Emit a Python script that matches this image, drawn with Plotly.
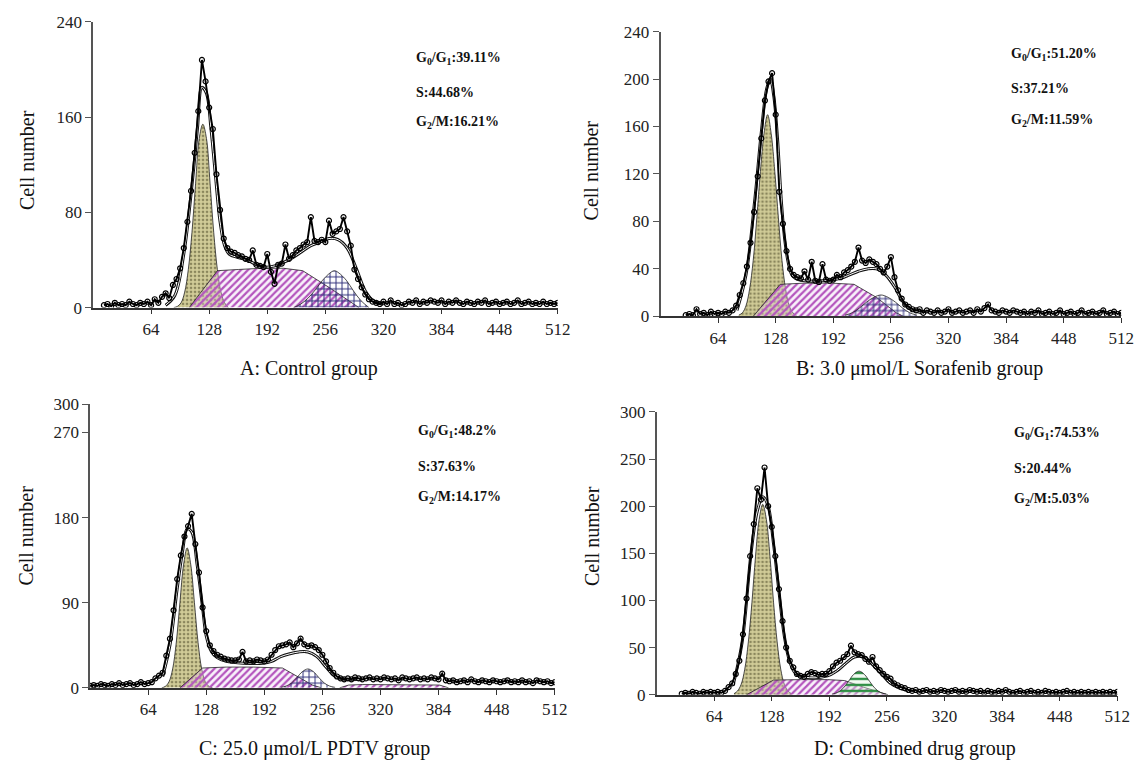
import plotly.graph_objects as go

W, H = 1147, 763

# ---------------- DATA ----------------
# channel grids (histogram bin index)
A_ch = list(range(12, 513, 4))
A_cnt = [2, 3, 1, 4, 2, 3, 2, 5, 3, 2,
         4, 3, 5, 2, 7, 4, 9, 12, 8, 19,
         24, 33, 50, 72, 98, 130, 165, 208, 190, 168,
         150, 112, 82, 58, 50, 47, 46, 44, 43, 41,
         40, 48, 36, 35, 34, 45, 30, 20, 36, 37,
         53, 41, 44, 48, 50, 53, 55, 76, 56, 55,
         57, 55, 73, 62, 64, 66, 76, 64, 52, 32,
         24, 17, 11, 7, 5, 4, 3, 5, 3, 6,
         3, 4, 2, 3, 5, 4, 6, 3, 5, 4,
         6, 5, 4, 6, 3, 5, 4, 6, 4, 3,
         5, 4, 3, 5, 4, 6, 3, 4, 5, 3,
         4, 5, 3, 4, 6, 3, 4, 5, 3, 4,
         3, 5, 3, 4, 3, 4]
A_g1_x = [89, 93, 97, 101, 105, 109, 113, 117, 121, 125, 129, 133, 137, 141, 145, 149]
A_g1_y = [0, 1, 4, 13, 32, 63, 104, 142, 154, 142, 104, 63, 32, 13, 4, 0]
A_s_x = [106, 137, 160, 185, 210, 231, 262, 293]
A_s_y = [0, 31, 32, 33, 33, 31, 16, 0]
A_g2_x = [221, 229, 237, 245, 253, 261, 266, 271, 279, 287, 295, 304]
A_g2_y = [0, 3, 8, 15, 23, 29, 31, 29, 23, 14, 6, 0]
A_env_x = [80, 90, 100, 110, 115, 120, 125, 130, 135, 140, 145, 150, 160, 170, 180, 190, 200,
           210, 220, 230, 240, 250, 260, 270, 280, 290, 300, 310, 320]
A_env_y = [2, 10, 45, 110, 150, 185, 180, 150, 110, 72, 52, 45, 42, 40, 36, 34, 35,
           38, 42, 47, 52, 55, 58, 57, 50, 33, 14, 5, 3]

B_ch = list(range(28, 513, 4))
B_cnt = [1, 2, 1, 6, 2, 3, 1, 4, 2, 3,
         2, 4, 3, 5, 9, 18, 28, 42, 62, 88,
         118, 150, 182, 198, 205, 170, 105, 78, 55, 40,
         35, 33, 32, 38, 31, 46, 30, 29, 44, 31,
         30, 31, 35, 33, 37, 39, 42, 46, 58, 47,
         45, 48, 46, 44, 40, 37, 42, 50, 33, 22,
         15, 10, 8, 6, 5, 6, 3, 5, 4, 3,
         5, 3, 4, 6, 3, 4, 5, 3, 4, 5,
         3, 6, 4, 7, 10, 5, 4, 3, 5, 4,
         3, 5, 4, 3, 4, 2, 4, 3, 5, 2,
         3, 4, 2, 3, 5, 2, 3, 4, 2, 3,
         5, 2, 3, 4, 2, 3, 5, 2, 3, 4,
         2, 3]
B_g1_x = [87, 91, 95, 99, 103, 107, 111, 115, 119, 123, 127, 131, 135, 139, 143, 147, 151]
B_g1_y = [1, 3, 9, 23, 47, 83, 122, 154, 170, 154, 122, 83, 47, 23, 9, 3, 1]
B_s_x = [103, 133, 160, 190, 215, 240, 262, 270]
B_s_y = [0, 27, 28, 28, 27, 16, 3, 0]
B_g2_x = [205, 213, 221, 229, 237, 245, 253, 261, 269, 277, 285]
B_g2_y = [1, 3, 7, 12, 16, 18, 16, 12, 7, 3, 1]
B_env_x = [85, 95, 105, 112, 118, 122, 126, 130, 134, 138, 142, 146, 150, 160, 180, 200,
           210, 220, 230, 240, 250, 260, 268, 276, 290]
B_env_y = [5, 35, 100, 155, 192, 200, 185, 150, 100, 65, 45, 35, 32, 30, 30, 32,
           35, 38, 40, 40, 35, 25, 14, 7, 3]

C_ch = list(range(0, 513, 4))
C_cnt = [2, 3, 2, 4, 3, 2, 4, 3, 5, 3,
         4, 5, 3, 4, 6, 4, 5, 6, 10, 13,
         16, 34, 52, 82, 115, 140, 160, 171, 184, 152,
         122, 85, 60, 45, 39, 35, 33, 31, 30, 29,
         29, 30, 38, 28, 29, 28, 30, 29, 28, 30,
         35, 40, 44, 45, 46, 48, 43, 47, 52, 46,
         44, 45, 43, 40, 35, 28, 21, 16, 12, 10,
         9, 10, 9, 11, 10, 9, 10, 11, 9, 10,
         9, 11, 10, 9, 10, 8, 11, 10, 9, 10,
         11, 9, 10, 9, 11, 10, 9, 15, 8, 7,
         8, 6, 7, 8, 6, 9, 7, 6, 8, 7,
         6, 8, 7, 6, 7, 8, 6, 7, 6, 8,
         6, 7, 5, 8, 7, 6, 7, 5, 6]
C_g1_x = [79, 83, 87, 91, 95, 99, 103, 107, 111, 115, 119, 123, 127, 131, 135]
C_g1_y = [0, 1.6, 6.5, 20, 48, 90, 130, 148, 130, 90, 48, 20, 6.5, 1.6, 0]
C_s_x = [99, 124, 150, 180, 212, 228, 245, 255]
C_s_y = [0, 21, 22, 22, 21, 12, 3, 0]
C_tail_x = [275, 285, 300, 350, 385, 395]
C_tail_y = [0, 3, 3.5, 3.5, 3, 0]
C_g2_x = [210, 216, 222, 228, 234, 240, 246, 252, 258, 264, 270]
C_g2_y = [0.5, 1.9, 5.2, 11, 17.2, 20, 17.2, 11, 5.2, 1.9, 0.5]
C_env_x = [80, 88, 96, 102, 107, 112, 118, 124, 128, 134, 140, 150, 170, 190, 200, 210,
           220, 230, 240, 250, 260, 270, 280, 300]
C_env_y = [12, 45, 105, 145, 168, 165, 130, 85, 55, 38, 32, 28, 26, 26, 28, 33,
           36, 38, 38, 33, 22, 12, 9, 9]

D_ch = list(range(28, 513, 4))
D_cnt = [1, 2, 1, 3, 2, 1, 3, 2, 3, 2,
         3, 2, 4, 8, 12, 22, 36, 64, 102, 147,
         181, 219, 207, 241, 200, 178, 147, 112, 78, 50,
         36, 29, 22, 20, 19, 22, 24, 23, 21, 22,
         22, 25, 30, 34, 36, 40, 43, 52, 45, 43,
         42, 38, 35, 40, 30, 26, 22, 19, 17, 12,
         10, 8, 7, 5, 4, 5, 3, 4, 5, 3,
         4, 3, 5, 4, 3, 4, 5, 3, 4, 3,
         5, 4, 3, 4, 2, 4, 3, 2, 4, 3,
         5, 3, 2, 3, 4, 2, 3, 4, 2, 3,
         2, 4, 3, 2, 3, 2, 3, 4, 2, 3,
         2, 3, 2, 3, 2, 3, 2, 3, 2, 3,
         2, 3]
D_g1_x = [86, 90, 94, 98, 102, 106, 110, 114, 118, 122, 126, 130, 134, 138, 142, 146, 150]
D_g1_y = [1, 4, 11, 27, 56, 98, 147, 186, 202, 186, 147, 98, 56, 27, 11, 4, 1]
D_s_x = [100, 130, 160, 190, 209, 230, 257]
D_s_y = [0, 15.5, 16, 16, 15, 8, 0]
D_g2_x = [195, 201, 207, 213, 219, 225, 231, 237, 243, 249, 255]
D_g2_y = [0.6, 2.3, 6.5, 13.8, 21.5, 25, 21.5, 13.8, 6.5, 2.3, 0.6]
D_env_x = [85, 95, 105, 112, 118, 124, 130, 136, 142, 148, 155, 170, 190, 200, 210, 220,
           230, 240, 250, 260, 270, 280]
D_env_y = [10, 55, 150, 195, 210, 200, 160, 110, 62, 35, 22, 18, 20, 25, 33, 40,
           40, 32, 22, 12, 7, 4]

x_ticks = [64, 128, 192, 256, 320, 384, 448, 512]
A_yticks = [0, 80, 160, 240]
B_yticks = [0, 40, 80, 120, 160, 200, 240]
C_yticks = [0, 90, 180, 270, 300]
D_yticks = [0, 50, 100, 150, 200, 250, 300]

captions = ["A: Control group", "B: 3.0 μmol/L Sorafenib group",
            "C: 25.0 μmol/L PDTV group", "D: Combined drug group"]
phase_text = [
    ["G<sub>0</sub>/G<sub>1</sub>:39.11%", "S:44.68%", "G<sub>2</sub>/M:16.21%"],
    ["G<sub>0</sub>/G<sub>1</sub>:51.20%", "S:37.21%", "G<sub>2</sub>/M:11.59%"],
    ["G<sub>0</sub>/G<sub>1</sub>:48.2%", "S:37.63%", "G<sub>2</sub>/M:14.17%"],
    ["G<sub>0</sub>/G<sub>1</sub>:74.53%", "S:20.44%", "G<sub>2</sub>/M:5.03%"],
]

# ---------------- LAYOUT (pixel boxes) ----------------
boxes = [  # x0, x1, ytop, ybottom in px
    (86, 556, 5, 298),
    (660, 1126, 15, 307),
    (83, 553, 397, 688),
    (656, 1122, 405, 695),
]
yranges = [240, 240, 300, 300]
text_pos = [(411, [43, 77, 108]), (1012, [38, 73, 106]),
            (413, [425, 461, 493]), (1016, [427, 463, 495])]
cap_pos = [(304, 360), (922, 360), (310, 750), (917, 750)]
ylab_pos = [(20, 147), (590, 157), (18, 532), (590, 532)]

FONT = "Liberation Serif, Times New Roman, serif"

G1_PAT = dict(shape=".", bgcolor="#d1cc98", fgcolor="#8a865c", size=4, solidity=0.35, fillmode="replace")
S_PAT = dict(shape="/", bgcolor="rgba(235,215,240,0.35)", fgcolor="#b455bd", size=5, solidity=0.45, fillmode="replace")
G2_PAT = dict(shape="+", bgcolor="rgba(255,255,255,0)", fgcolor="#2c2c78", size=6, solidity=0.3, fillmode="replace")
G2D_PAT = dict(shape="-", bgcolor="rgba(225,245,225,0.4)", fgcolor="#2f8f45", size=6, solidity=0.4, fillmode="replace")

panels = [
    dict(ch=A_ch, cnt=A_cnt, g1=(A_g1_x, A_g1_y), s=[(A_s_x, A_s_y)], g2=(A_g2_x, A_g2_y),
         env=(A_env_x, A_env_y), yt=A_yticks, g2pat=G2_PAT),
    dict(ch=B_ch, cnt=B_cnt, g1=(B_g1_x, B_g1_y), s=[(B_s_x, B_s_y)], g2=(B_g2_x, B_g2_y),
         env=(B_env_x, B_env_y), yt=B_yticks, g2pat=G2_PAT),
    dict(ch=C_ch, cnt=C_cnt, g1=(C_g1_x, C_g1_y), s=[(C_s_x, C_s_y), (C_tail_x, C_tail_y)],
         g2=(C_g2_x, C_g2_y), env=(C_env_x, C_env_y), yt=C_yticks, g2pat=G2_PAT),
    dict(ch=D_ch, cnt=D_cnt, g1=(D_g1_x, D_g1_y), s=[(D_s_x, D_s_y)], g2=(D_g2_x, D_g2_y),
         env=(D_env_x, D_env_y), yt=D_yticks, g2pat=G2D_PAT),
]

fig = go.Figure()
annotations = []
layout_axes = {}

for i, p in enumerate(panels):
    n = "" if i == 0 else str(i + 1)
    xa, ya = "x" + n, "y" + n
    x0, x1, yt_px, yb_px = boxes[i]

    # G0/G1 component
    fig.add_trace(go.Scatter(x=p["g1"][0], y=p["g1"][1], xaxis=xa, yaxis=ya, mode="lines",
                             line=dict(color="#222", width=0.8, shape="spline"),
                             fill="tozeroy", fillpattern=G1_PAT, hoverinfo="skip"))
    # S component(s)
    for sx, sy in p["s"]:
        fig.add_trace(go.Scatter(x=sx, y=sy, xaxis=xa, yaxis=ya, mode="lines",
                                 line=dict(color="#222", width=0.8),
                                 fill="tozeroy", fillpattern=S_PAT, hoverinfo="skip"))
    # G2/M component
    fig.add_trace(go.Scatter(x=p["g2"][0], y=p["g2"][1], xaxis=xa, yaxis=ya, mode="lines",
                             line=dict(color="#222", width=0.8, shape="spline"),
                             fill="tozeroy", fillpattern=p["g2pat"], hoverinfo="skip"))
    # fitted envelope
    fig.add_trace(go.Scatter(x=p["env"][0], y=p["env"][1], xaxis=xa, yaxis=ya, mode="lines",
                             line=dict(color="#111", width=3.0, shape="spline"), hoverinfo="skip"))
    fig.add_trace(go.Scatter(x=p["env"][0], y=p["env"][1], xaxis=xa, yaxis=ya, mode="lines",
                             line=dict(color="white", width=1.0, shape="spline"), hoverinfo="skip"))
    # measured histogram
    fig.add_trace(go.Scatter(x=p["ch"], y=p["cnt"], xaxis=xa, yaxis=ya, mode="lines+markers",
                             line=dict(color="black", width=1.9),
                             marker=dict(symbol="circle-open", size=5, color="black",
                                         line=dict(width=1.2, color="black"))))

    layout_axes["xaxis" + n] = dict(
        domain=[x0 / W, x1 / W], range=[0, 512], anchor=ya, tickvals=x_ticks,
        ticks="outside", ticklen=5, tickcolor="#333", showline=True, linecolor="#333",
        linewidth=1.5, showgrid=False, zeroline=False,
        tickfont=dict(family=FONT, size=17, color="#222"))
    layout_axes["yaxis" + n] = dict(
        domain=[1 - yb_px / H, 1 - yt_px / H], range=[0, yranges[i]], anchor=xa, tickvals=p["yt"],
        ticks="outside", ticklen=6, tickcolor="#555", showline=True, linecolor="#555",
        linewidth=1.5, showgrid=False, zeroline=False,
        tickfont=dict(family=FONT, size=17, color="#222"))

    tx, tys = text_pos[i]
    for t, ty in zip(phase_text[i], tys):
        annotations.append(dict(text="<b>" + t + "</b>", x=tx / W, y=1 - ty / H, xref="paper", yref="paper",
                                xanchor="left", yanchor="middle", showarrow=False,
                                font=dict(family=FONT, size=14, color="#111")))
    cx, cy = cap_pos[i]
    annotations.append(dict(text=captions[i], x=cx / W, y=1 - cy / H, xref="paper", yref="paper",
                            xanchor="center", yanchor="middle", showarrow=False,
                            font=dict(family=FONT, size=20, color="#111")))
    lx, ly = ylab_pos[i]
    annotations.append(dict(text="Cell number", x=lx / W, y=1 - ly / H, xref="paper", yref="paper",
                            xanchor="center", yanchor="middle", showarrow=False, textangle=-90,
                            font=dict(family=FONT, size=20, color="#111")))

fig.update_layout(width=W, height=H, margin=dict(l=0, r=0, t=0, b=0),
                  paper_bgcolor="white", plot_bgcolor="white", showlegend=False,
                  annotations=annotations, **layout_axes)

fig.write_html("out.html")
